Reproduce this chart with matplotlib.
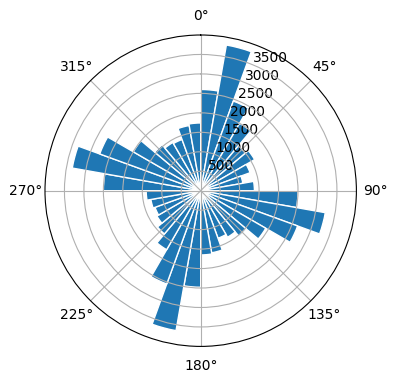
import matplotlib.pyplot as plt
import numpy as np

# direction bins, 10 degrees each, clockwise from north
bin_start_deg = np.arange(0, 360, 10)
counts = [2600, 3800, 2450, 2000, 1500, 1600, 1350, 1100, 1380,
          2500, 3250, 2650, 1930, 1530, 1380, 1300, 1620, 1650,
          2480, 3650, 2550, 1750, 1450, 1300, 1250, 1300, 1400,
          2500, 3350, 2760, 2000, 1540, 1430, 1400, 1700, 1740]
r_ticks = [500, 1000, 1500, 2000, 2500, 3000, 3500]

fig = plt.figure(figsize=(3.96, 3.8), dpi=100)
ax = fig.add_axes([0.1136, 0.0884, 0.7864, 0.8195], projection="polar")
ax.set_theta_zero_location("N")
ax.set_theta_direction(-1)

ax.bar(np.deg2rad(bin_start_deg), counts, width=np.deg2rad(10), align="edge",
       color="#1f77b4", edgecolor="white", linewidth=1)
ax.set_ylim(0, 4000)
ax.set_rticks(r_ticks)

fig.savefig("out.png", dpi=100)
